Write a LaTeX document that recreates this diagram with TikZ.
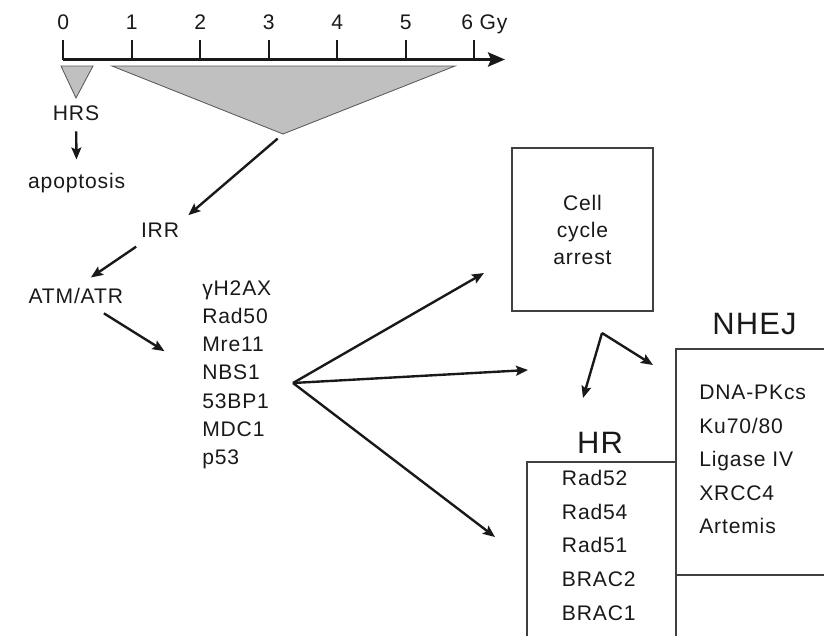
\documentclass[tikz,border=0pt]{standalone}
\usepackage{fontspec}
\setmainfont{Liberation Sans}[LetterSpace=4]
\usetikzlibrary{arrows.meta, positioning, calc}
\definecolor{inkgray}{RGB}{25,25,25}
\definecolor{wedgegray}{RGB}{192,192,192}

\tikzset{
  lbl/.style={inner sep=0pt, text=inkgray, font=\fontsize{15}{20.1}\selectfont},
  biglbl/.style={inner sep=0pt, text=inkgray, font=\fontsize{22}{26}\selectfont},
  arr/.style={draw=inkgray, line width=1.7pt, -{Stealth[length=8.5pt,width=7pt,inset=1.5pt]}},
  wedge/.style={fill=wedgegray, draw=black!65, line width=0.6pt},
  box/.style={draw=black!75, line width=1.4pt, inner sep=0pt}
}

\begin{document}
\begin{tikzpicture}[x=0.25mm, y=-0.25mm]
    \useasboundingbox (0,0) rectangle (824,635);
    \clip (0,0) rectangle (824,635);

    % Dose axis
    \draw[draw=inkgray, line width=2.4pt, -{Stealth[length=12pt,width=10pt,inset=2pt]}] (63,59.5) -- (505,59.5);
    \foreach \d in {0,...,6}
        \draw[draw=inkgray, line width=1.6pt] (63.3+68.5*\d,59.5) -- ++(0,-19.5);
    \foreach \d in {0,...,5}
        \node[lbl, anchor=base] (dose\d) at (63.3+68.5*\d,29) {\d};
    \node[lbl, anchor=base west] (dose6) at (461,29) {6 Gy};

    % Dose windows
    \coordinate (hrsTip) at (76,98);
    \coordinate (irrTip) at (283,134);
    \draw[wedge] (61,66) -- (93,66) -- (hrsTip) -- cycle;
    \draw[wedge] (112,66) -- (455,66) -- (irrTip) -- cycle;

    % Labels
    \node[lbl, anchor=base] (hrs) at (76,120.5) {HRS};
    \node[lbl, anchor=base] (apop) at (76.7,188.3) {apoptosis};
    \node[lbl, anchor=base] (irr) at (160,237.7) {IRR};
    \node[lbl, anchor=base] (atm) at (75.8,303.3) {ATM/ATR};
    \node[lbl, anchor=north west, align=left] (sensors) at (202,280)
        {γH2AX\\Rad50\\Mre11\\NBS1\\53BP1\\MDC1\\p53};

    % Cell cycle arrest
    \node[box, lbl, draw=black!75, minimum width=35.25mm, minimum height=40.75mm,
          align=center, font=\fontsize{15}{19.2}\selectfont] (arrest) at (582.5,229.5)
        {Cell\\cycle\\arrest};

    % Repair pathways
    \node[biglbl, anchor=base] (nhej) at (754.5,334.7) {NHEJ};
    \node[box, anchor=north west, minimum width=43.75mm, minimum height=56.5mm] (nhejbox) at (675,348) {};
    \node[lbl, anchor=north west, align=left, font=\fontsize{15}{23.8}\selectfont] (nhejitems) at (699,384.9)
        {DNA-PKcs\\Ku70/80\\Ligase IV\\XRCC4\\Artemis};

    \node[biglbl, anchor=base] (hr) at (600,453.3) {HR};
    \node[box, anchor=north west, minimum width=37.25mm, minimum height=50mm] (hrbox) at (526,461) {};
    \node[lbl, anchor=north west, align=left, font=\fontsize{15}{24}\selectfont] (hritems) at (561.7,469.9)
        {Rad52\\Rad54\\Rad51\\BRAC2\\BRAC1};

    % Free ends
    \coordinate (fan) at (293,383);
    \coordinate (toArrest) at (484,273);
    \coordinate (toMid) at (528,370);
    \coordinate (toHR) at (495,537);
    \coordinate (split) at (602,333);
    \coordinate (toHRlbl) at (583,398);
    \coordinate (toNHEJ) at (653,365);

    % Connections
    \draw[arr, shorten <=7.4pt, shorten >=9.4pt] (hrs) -- (apop);
    \draw[arr, shorten <=5pt, shorten >=8.5pt] (irrTip) -- (irr.north east);
    \draw[arr, shorten <=11pt, shorten >=13pt] (irr) -- (atm.north);
    \draw[arr, shorten <=12.8pt, shorten >=31.5pt] (atm) -- (sensors.west);
    \foreach \t in {toArrest,toMid,toHR}
        \draw[arr] (fan) -- (\t);
    \draw[arr] (split) -- (toHRlbl);
    \draw[arr] (split) -- (toNHEJ);
\end{tikzpicture}
\end{document}
